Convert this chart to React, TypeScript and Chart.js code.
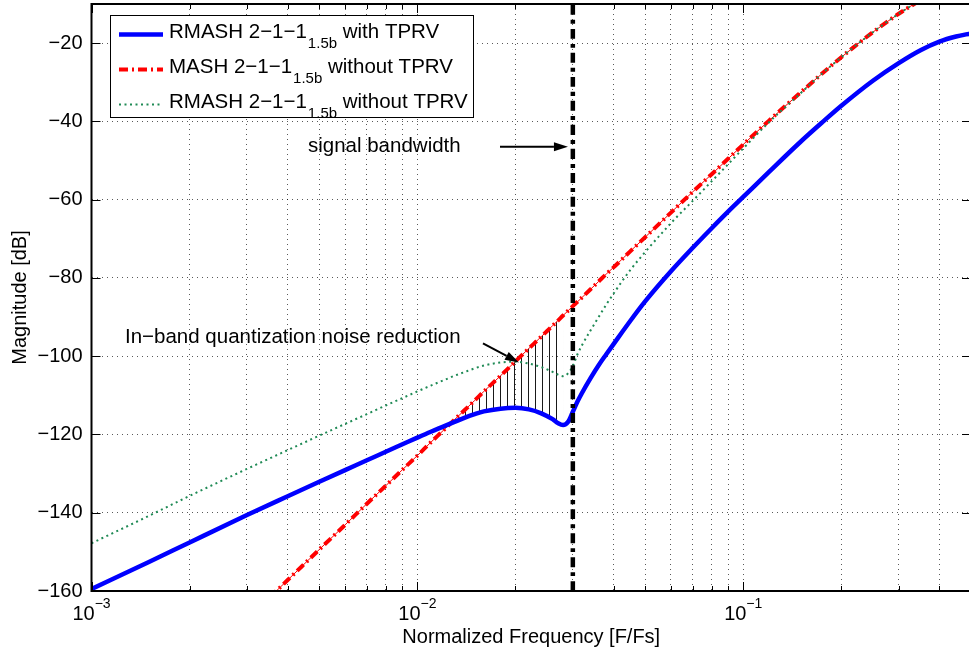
import React, { useEffect, useRef } from 'react';
import { Chart, registerables } from 'chart.js';

Chart.register(...registerables);

// ---------- data ----------
const freq = [0.001, 0.0015, 0.002, 0.003, 0.004, 0.005, 0.006, 0.007, 0.008, 0.009, 0.01, 0.011, 0.012, 0.013, 0.014, 0.015, 0.016, 0.018, 0.02, 0.022, 0.024, 0.026, 0.027, 0.028, 0.029, 0.03, 0.031, 0.032, 0.034, 0.036, 0.038, 0.04, 0.045, 0.05, 0.06, 0.07, 0.08, 0.09, 0.1, 0.12, 0.15, 0.175, 0.2, 0.25, 0.3, 0.35, 0.4, 0.45, 0.5];

// RMASH 2-1-1 (1.5b) with TPRV
const rmashTprv = [-159.5, -152.6, -147.6, -140.6, -135.8, -132.1, -129.1, -126.6, -124.4, -122.5, -120.8, -119.3, -118.0, -116.8, -115.7, -114.8, -114.1, -113.4, -113.2, -113.6, -114.6, -116.1, -117.1, -117.6, -116.8, -114.2, -111.6, -109.4, -105.6, -102.3, -99.5, -96.9, -91.0, -86.0, -78.3, -72.3, -67.3, -63.0, -59.3, -52.9, -45.2, -40.2, -36.0, -29.6, -25.1, -21.8, -19.6, -18.3, -17.5];

// MASH 2-1-1 (1.5b) without TPRV
const mashNoTprv = [-205.3, -191.3, -181.3, -167.2, -157.2, -149.4, -143.1, -137.7, -133.1, -129.0, -125.4, -122.0, -119.0, -116.2, -113.7, -111.3, -109.0, -105.0, -101.3, -98.0, -95.0, -92.2, -90.9, -89.6, -88.4, -87.2, -86.1, -85.0, -82.9, -80.9, -79.0, -77.3, -73.2, -69.6, -63.3, -58.0, -53.5, -49.5, -45.9, -39.8, -32.6, -27.7, -23.6, -17.2, -12.5, -9.1, -6.9, -5.5, -5.1];

// RMASH 2-1-1 (1.5b) without TPRV
const rmashNoTprv = [-147.8, -140.8, -135.7, -128.8, -124.0, -120.3, -117.3, -114.8, -112.6, -110.7, -109.0, -107.5, -106.2, -105.0, -104.0, -103.1, -102.4, -101.6, -101.4, -101.9, -102.8, -104.0, -104.7, -105.1, -104.4, -102.5, -99.5, -97.2, -93.4, -90.0, -86.8, -84.0, -78.0, -73.4, -66.0, -60.3, -55.3, -50.9, -46.9, -40.2, -32.8, -27.7, -23.6, -17.2, -12.5, -9.1, -6.9, -5.5, -5.1];

// hatched in-band noise reduction region (between MASH and RMASH-with-TPRV)
const hatchFreq = [0.0126, 0.013, 0.014, 0.015, 0.016, 0.018, 0.02, 0.022, 0.024, 0.026, 0.027, 0.028];
const hatchUpper = [-117.3, -116.2, -113.7, -111.3, -109.0, -105.0, -101.3, -98.0, -95.0, -92.2, -90.9, -89.6];
const hatchLower = [-117.3, -116.8, -115.7, -114.8, -114.1, -113.4, -113.2, -113.6, -114.6, -116.1, -117.1, -117.6];

const signalBandwidth = 0.03;
const xMin = 0.001;
const xMax = 0.5;
const yMin = -160;
const yMax = -10;

const xGridTicks = [0.001, 0.002, 0.003, 0.004, 0.005, 0.006, 0.007, 0.008, 0.009, 0.01, 0.02, 0.03, 0.04, 0.05, 0.06, 0.07, 0.08, 0.09, 0.1, 0.2, 0.3, 0.4, 0.5];
const xDecadeTicks = [0.001, 0.01, 0.1];
const xDecadeExponents = ['\u22123', '\u22122', '\u22121'];
const yTicks = [-160, -140, -120, -100, -80, -60, -40, -20];

const legendLabels = [
  { pre: 'RMASH 2\u22121\u22121', sub: '1.5b', post: ' with TPRV' },
  { pre: 'MASH 2\u22121\u22121', sub: '1.5b', post: ' without TPRV' },
  { pre: 'RMASH 2\u22121\u22121', sub: '1.5b', post: ' without TPRV' },
];

const annotationTexts = [
  { text: 'signal bandwidth', f: 0.004616, db: -47.9 },
  { text: 'In\u2212band quantization noise reduction', f: 0.001267, db: -96.6 },
];
const annotationArrows = [
  { f1: 0.01793, db1: -46.5, f2: 0.02898, db2: -46.5 },
  { f1: 0.0159, db1: -96.7, f2: 0.0205, db2: -101.6 },
];

// ---------- styles ----------
const FONT = '"Liberation Sans", Arial, Helvetica, sans-serif';
const BLUE = '#0000ff';
const RED = '#ff0000';
const GREEN = '#1f8a55';
const seriesStyles = [
  { color: BLUE, width: 4.5, dash: [] as number[] },
  { color: RED, width: 4, dash: [9, 4, 2, 4] },
  { color: GREEN, width: 2, dash: [2, 3.5] },
];

const pts = (xs: number[], ys: number[]) => xs.map((x, i) => ({ x, y: ys[i] }));

function drawArrow(ctx: CanvasRenderingContext2D, x1: number, y1: number, x2: number, y2: number) {
  const ang = Math.atan2(y2 - y1, x2 - x1);
  const headLen = 14;
  const headHalf = 4.5;
  const bx = x2 - headLen * Math.cos(ang);
  const by = y2 - headLen * Math.sin(ang);
  ctx.beginPath();
  ctx.lineWidth = 2;
  ctx.strokeStyle = '#000';
  ctx.moveTo(x1, y1);
  ctx.lineTo(bx, by);
  ctx.stroke();
  ctx.beginPath();
  ctx.fillStyle = '#000';
  ctx.moveTo(x2, y2);
  ctx.lineTo(bx + headHalf * Math.sin(ang), by - headHalf * Math.cos(ang));
  ctx.lineTo(bx - headHalf * Math.sin(ang), by + headHalf * Math.cos(ang));
  ctx.closePath();
  ctx.fill();
}

const decorPlugin = {
  id: 'decor',
  afterDraw(chart: any) {
    const { ctx, chartArea: a } = chart;
    const xs = chart.scales.x;
    const ys = chart.scales.y;
    ctx.save();
    ctx.setLineDash([]);

    // tick marks (inside, all four sides)
    ctx.strokeStyle = '#000';
    ctx.lineWidth = 1;
    xGridTicks.forEach((v) => {
      const px = Math.round(xs.getPixelForValue(v)) + 0.5;
      const len = xDecadeTicks.includes(v) ? 9 : 5;
      ctx.beginPath();
      ctx.moveTo(px, a.bottom);
      ctx.lineTo(px, a.bottom - len);
      ctx.moveTo(px, a.top);
      ctx.lineTo(px, a.top + len);
      ctx.stroke();
    });
    yTicks.forEach((v) => {
      const py = Math.round(ys.getPixelForValue(v)) + 0.5;
      ctx.beginPath();
      ctx.moveTo(a.left, py);
      ctx.lineTo(a.left + 9, py);
      ctx.moveTo(a.right, py);
      ctx.lineTo(a.right - 9, py);
      ctx.stroke();
    });

    // frame
    ctx.lineWidth = 2;
    ctx.strokeRect(a.left, a.top, a.right - a.left, a.bottom - a.top);

    // x tick labels 10^n
    ctx.fillStyle = '#000';
    ctx.textAlign = 'left';
    ctx.textBaseline = 'alphabetic';
    xDecadeTicks.forEach((v, i) => {
      const px = xs.getPixelForValue(v);
      ctx.font = `20px ${FONT}`;
      const w1 = ctx.measureText('10').width;
      ctx.font = `14px ${FONT}`;
      const w2 = ctx.measureText(xDecadeExponents[i]).width;
      const start = px - (w1 + w2) / 2;
      ctx.font = `20px ${FONT}`;
      ctx.fillText('10', start, a.bottom + 29);
      ctx.font = `14px ${FONT}`;
      ctx.fillText(xDecadeExponents[i], start + w1, a.bottom + 17);
    });

    // annotations
    ctx.font = `20.5px ${FONT}`;
    annotationTexts.forEach((t) => {
      ctx.fillText(t.text, xs.getPixelForValue(t.f), ys.getPixelForValue(t.db));
    });
    annotationArrows.forEach((r) => {
      drawArrow(ctx, xs.getPixelForValue(r.f1), ys.getPixelForValue(r.db1), xs.getPixelForValue(r.f2), ys.getPixelForValue(r.db2));
    });

    // legend
    const lg = { left: 110.5, top: 15.5, width: 363, height: 102 };
    ctx.fillStyle = '#fff';
    ctx.fillRect(lg.left, lg.top, lg.width, lg.height);
    ctx.strokeStyle = '#000';
    ctx.lineWidth = 1;
    ctx.strokeRect(lg.left, lg.top, lg.width, lg.height);
    legendLabels.forEach((e, i) => {
      const st = seriesStyles[i];
      const ky = lg.top + 19 + i * 35;
      ctx.beginPath();
      ctx.setLineDash(st.dash);
      ctx.lineWidth = st.width;
      ctx.strokeStyle = st.color;
      ctx.moveTo(lg.left + 8.5, ky);
      ctx.lineTo(lg.left + 52.5, ky);
      ctx.stroke();
      ctx.setLineDash([]);
      const by = ky + 3.6;
      ctx.fillStyle = '#000';
      let tx = lg.left + 58.5;
      ctx.font = `20.5px ${FONT}`;
      ctx.fillText(e.pre, tx, by);
      tx += ctx.measureText(e.pre).width + 1;
      ctx.font = `15px ${FONT}`;
      ctx.fillText(e.sub, tx, by + 10);
      tx += ctx.measureText(e.sub).width;
      ctx.font = `20.5px ${FONT}`;
      ctx.fillText(e.post, tx, by);
    });
    ctx.restore();
  },
};

export default function App() {
  const ref = useRef<HTMLCanvasElement>(null);

  useEffect(() => {
    const canvas = ref.current;
    if (!canvas) return;
    const ctx = canvas.getContext('2d');
    if (!ctx) return;

    const pc = document.createElement('canvas');
    pc.width = 7;
    pc.height = 4;
    const pctx = pc.getContext('2d')!;
    pctx.fillStyle = 'rgba(0,0,0,0.9)';
    pctx.fillRect(3, 0, 1, 4);
    const hatch = ctx.createPattern(pc, 'repeat');

    const common = { pointRadius: 0, pointHoverRadius: 0, cubicInterpolationMode: 'monotone' as const, fill: false };

    const chart = new Chart(ctx, {
      type: 'line',
      data: {
        datasets: [
          {
            label: 'signal bandwidth',
            data: [{ x: signalBandwidth, y: yMin }, { x: signalBandwidth, y: yMax }],
            borderColor: '#000',
            borderWidth: 4.5,
            borderDash: [10, 5, 4, 5],
            order: 0,
            ...common,
          },
          {
            label: 'RMASH 2-1-1 1.5b with TPRV',
            data: pts(freq, rmashTprv),
            borderColor: BLUE,
            borderWidth: seriesStyles[0].width,
            order: 1,
            ...common,
          },
          {
            label: 'RMASH 2-1-1 1.5b without TPRV',
            data: pts(freq, rmashNoTprv),
            borderColor: GREEN,
            borderWidth: seriesStyles[2].width,
            borderDash: seriesStyles[2].dash,
            order: 2,
            ...common,
          },
          {
            label: 'MASH 2-1-1 1.5b without TPRV',
            data: pts(freq, mashNoTprv),
            borderColor: RED,
            borderWidth: seriesStyles[1].width,
            borderDash: seriesStyles[1].dash,
            order: 3,
            ...common,
          },
          {
            label: 'MASH thin',
            data: pts(freq, mashNoTprv),
            borderColor: RED,
            borderWidth: 1,
            order: 4,
            ...common,
          },
          {
            label: 'hatch upper',
            data: pts(hatchFreq, hatchUpper),
            borderColor: 'rgba(0,0,0,0)',
            borderWidth: 0,
            backgroundColor: hatch as any,
            order: 5,
            ...common,
            fill: 6,
          },
          {
            label: 'hatch lower',
            data: pts(hatchFreq, hatchLower),
            borderColor: 'rgba(0,0,0,0)',
            borderWidth: 0,
            order: 6,
            ...common,
          },
        ],
      },
      options: {
        animation: false,
        responsive: false,
        devicePixelRatio: 1,
        events: [],
        layout: { padding: { left: 0, top: 4, right: 4, bottom: 0 } },
        plugins: {
          legend: { display: false },
          tooltip: { enabled: false },
          title: { display: false },
        },
        scales: {
          x: {
            type: 'logarithmic',
            min: xMin,
            max: xMax,
            afterBuildTicks: (s: any) => {
              s.ticks = xGridTicks.map((v) => ({ value: v, major: xDecadeTicks.includes(v) }));
            },
            afterFit: (s: any) => {
              s.height = 65;
              s.paddingLeft = 0;
              s.paddingRight = 0;
            },
            ticks: { display: false, autoSkip: false },
            grid: { color: 'rgba(0,0,0,0.65)', lineWidth: 1, drawTicks: false },
            border: { display: false, dash: [1, 4] },
            title: {
              display: true,
              text: 'Normalized Frequency [F/Fs]',
              color: '#000',
              font: { family: FONT, size: 20 },
              padding: { top: 0, bottom: 7 },
            },
          },
          y: {
            type: 'linear',
            min: yMin,
            max: yMax,
            afterBuildTicks: (s: any) => {
              s.ticks = yTicks.map((v) => ({ value: v }));
            },
            afterFit: (s: any) => {
              s.width = 91.5;
              s.paddingTop = 0;
              s.paddingBottom = 0;
            },
            ticks: {
              autoSkip: false,
              padding: 9,
              color: '#000',
              font: { family: FONT, size: 20 },
              callback: (v: any) => String(v).replace('-', '\u2212'),
            },
            grid: { color: 'rgba(0,0,0,0.65)', lineWidth: 1, drawTicks: false },
            border: { display: false, dash: [1, 4] },
            title: {
              display: true,
              text: 'Magnitude [dB]',
              color: '#000',
              font: { family: FONT, size: 20 },
              padding: { top: 8, bottom: 0 },
            },
          },
        },
      },
      plugins: [decorPlugin],
    } as any);

    return () => chart.destroy();
  }, []);

  return (
    <div style={{ position: 'fixed', left: 0, top: 0, width: 969, height: 656, overflow: 'hidden', background: '#fff' }}>
      <canvas ref={ref} width={975} height={656} style={{ display: 'block', width: 975, height: 656 }} />
    </div>
  );
}
